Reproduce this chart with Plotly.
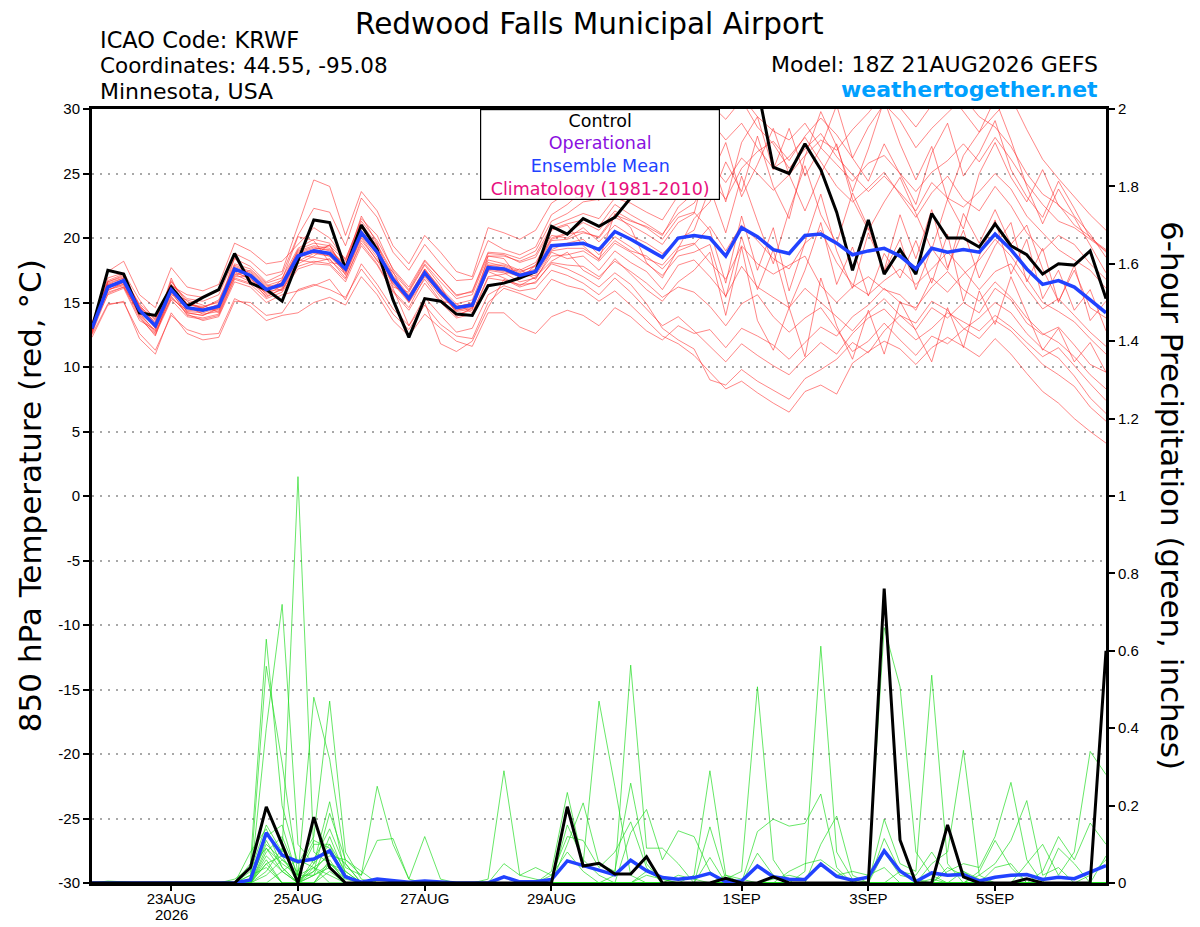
import plotly.graph_objects as go
import pandas as pd

# 6-hourly GEFS output, 18Z 21AUG2026 run, 16 days
times = pd.date_range("2026-08-21 18:00", periods=65, freq="6h")

tick_dates = ["2026-08-23", "2026-08-25", "2026-08-27", "2026-08-29",
              "2026-09-01", "2026-09-03", "2026-09-05"]
tick_text = ["23AUG", "25AUG", "27AUG", "29AUG", "1SEP", "3SEP", "5SEP"]
year_label = "2026"

temp_ticks = [-30, -25, -20, -15, -10, -5, 0, 5, 10, 15, 20, 25, 30]
temp_ticktext = ["-30", "-25", "-20", "-15", "-10", "-5", "0", "5", "10", "15", "20", "25", "30"]

# --- 850 hPa temperature (C) ---
ctl_temp = [13.0, 17.5, 17.2, 14.2, 14.0, 16.2, 14.7, 15.4, 16.0, 18.8, 16.5, 16.0, 15.1,
            18.3, 21.4, 21.2, 17.6, 21.0, 19.1, 15.2, 12.3, 15.3, 15.1, 14.1, 14.0, 16.3,
            16.5, 16.9, 17.4, 20.9, 20.3, 21.5, 20.9, 21.6, 23.1, 25.5, 27.5, 29.0, 30.8,
            31.6, 32.0, 32.4, 31.7, 25.5, 25.0, 27.3, 25.3, 22.0, 17.5, 21.4, 17.2, 19.1,
            17.2, 21.9, 20.0, 20.0, 19.3, 21.1, 19.4, 18.7, 17.2, 18.0, 17.9, 19.0, 15.3]

mean_temp = [13.0, 16.2, 16.7, 14.4, 13.2, 16.0, 14.6, 14.4, 14.7, 17.6, 17.1, 16.0, 16.4,
             18.6, 19.0, 18.8, 17.6, 20.4, 18.9, 16.8, 15.3, 17.3, 15.8, 14.6, 14.8, 17.7,
             17.6, 17.1, 17.4, 19.4, 19.5, 19.6, 19.1, 20.5, 19.9, 19.2, 18.5, 20.0, 20.2,
             20.0, 18.6, 20.8, 20.1, 19.1, 18.8, 20.2, 20.3, 19.6, 18.7, 19.0, 19.2, 18.6,
             17.6, 19.2, 18.9, 19.1, 18.9, 20.3, 19.1, 17.6, 16.4, 16.7, 16.2, 15.2, 14.2]

tmp01 = [12.8, 17.4, 18.2, 15.6, 14.6, 17.7, 16.2, 15.9, 16.4, 19.6, 19.0, 18.0, 18.2,
         19.5, 20.8, 20.0, 18.3, 21.5, 20.2, 17.5, 16.0, 18.2, 16.9, 15.5, 15.9, 18.9,
         18.8, 18.4, 19.0, 21.3, 21.9, 22.8, 23.0, 24.6, 25.3, 26.1, 25.0, 27.2, 28.4,
         29.1, 27.6, 28.9, 27.0, 25.4, 26.3, 27.8, 25.9, 24.0, 22.8, 23.9, 25.1, 23.3,
         21.6, 23.5, 24.8, 23.0, 22.1, 24.0, 22.5, 20.4, 19.0, 20.2, 19.5, 18.0, 16.8]
tmp02 = [12.3, 14.8, 15.1, 12.2, 11.0, 14.2, 12.6, 12.1, 12.3, 15.1, 15.0, 14.0, 14.2,
         16.0, 16.4, 16.0, 15.4, 17.6, 16.0, 14.1, 12.9, 14.8, 13.3, 12.4, 12.2, 15.0,
         16.1, 15.7, 15.2, 16.8, 16.3, 16.0, 15.1, 15.9, 14.8, 13.6, 12.4, 11.8, 10.9,
         9.6, 8.3, 8.9, 8.0, 7.2, 6.5, 8.1, 8.6, 7.9, 10.3, 11.2, 12.0, 11.4,
         10.2, 11.5, 12.3, 11.6, 10.8, 12.2, 11.0, 9.5, 8.1, 7.2, 6.0, 5.0, 4.1]
tmp03 = [13.3, 16.0, 16.4, 14.6, 13.0, 16.9, 14.2, 14.0, 14.5, 18.5, 16.7, 15.7, 16.8,
         20.1, 19.8, 18.1, 17.9, 21.7, 19.6, 16.2, 15.8, 17.9, 16.3, 14.1, 14.4, 18.6,
         18.4, 16.8, 17.9, 20.6, 21.0, 19.4, 18.3, 21.9, 20.8, 18.1, 16.9, 19.2, 21.5,
         22.8, 25.9, 23.6, 27.9, 24.0, 21.5, 26.3, 29.8, 27.1, 23.6, 26.9, 30.7, 27.3,
         24.5, 27.1, 23.0, 26.4, 28.2, 30.8, 27.6, 24.0, 21.1, 23.8, 21.7, 20.3, 18.5]
tmp04 = [13.1, 16.5, 16.9, 14.9, 13.8, 15.6, 15.2, 14.8, 14.2, 17.1, 17.5, 16.4, 15.9,
         18.0, 18.6, 19.5, 17.1, 20.0, 18.2, 17.4, 15.0, 16.8, 15.1, 14.9, 14.2, 17.0,
         17.2, 17.6, 16.8, 18.9, 18.4, 18.6, 17.5, 19.0, 18.1, 17.4, 16.0, 17.9, 18.3,
         17.0, 15.5, 17.8, 16.2, 15.4, 14.6, 16.1, 15.0, 13.9, 12.8, 14.2, 15.3, 14.0,
         12.9, 14.6, 13.8, 15.0, 14.2, 16.1, 15.2, 13.4, 12.5, 13.1, 11.7, 10.2, 9.6]
tmp05 = [12.9, 16.9, 17.3, 15.2, 13.6, 16.3, 15.6, 15.4, 15.9, 18.8, 18.2, 17.1, 17.4,
         21.0, 24.5, 24.0, 20.2, 23.6, 22.1, 19.4, 18.0, 20.2, 18.9, 17.4, 17.0, 20.8,
         20.4, 19.9, 20.6, 22.7, 23.5, 24.1, 23.9, 26.0, 26.8, 27.4, 28.1, 29.6, 30.8,
         31.5, 30.2, 31.0, 29.4, 28.3, 27.6, 28.9, 27.0, 25.7, 24.4, 25.8, 26.4, 25.0,
         23.6, 25.1, 26.0, 27.3, 25.9, 27.8, 26.1, 24.2, 22.6, 21.3, 20.8, 19.9, 19.0]
tmp06 = [13.4, 15.8, 16.2, 14.2, 12.7, 15.3, 14.4, 14.3, 14.9, 17.3, 16.9, 15.4, 16.1,
         18.3, 18.1, 18.4, 16.9, 19.6, 18.0, 15.9, 14.6, 17.0, 15.4, 13.9, 14.6, 17.4,
         16.9, 16.3, 17.0, 18.2, 18.9, 17.5, 16.8, 18.4, 17.2, 16.0, 15.1, 16.6, 17.5,
         18.9, 14.0, 19.3, 13.6, 11.3, 14.6, 10.8, 16.9, 13.2, 10.6, 14.4, 11.0, 15.1,
         12.8, 10.4, 14.6, 11.5, 15.9, 13.3, 17.0, 14.1, 11.3, 13.0, 10.4, 11.9, 9.6]
tmp07 = [12.6, 16.4, 16.6, 13.9, 12.4, 15.9, 14.0, 13.8, 14.1, 16.9, 16.5, 15.8, 16.6,
         18.9, 19.3, 19.0, 18.0, 20.8, 19.4, 17.1, 15.6, 17.5, 16.0, 14.6, 15.0, 18.1,
         17.8, 17.3, 17.9, 20.0, 20.4, 21.2, 20.6, 22.1, 21.4, 20.8, 19.9, 21.6, 22.0,
         20.6, 16.5, 21.7, 17.5, 20.8, 15.9, 19.6, 23.4, 19.0, 16.1, 20.4, 17.5, 21.8,
         18.4, 22.2, 17.7, 20.6, 16.9, 19.4, 21.2, 16.6, 19.2, 15.0, 17.9, 13.6, 15.1]
tmp08 = [13.0, 15.6, 16.1, 13.6, 12.9, 15.5, 14.1, 13.6, 13.9, 16.6, 16.2, 15.0, 15.6,
         15.9, 16.3, 16.8, 15.2, 18.0, 16.4, 14.5, 13.2, 15.4, 14.0, 12.7, 13.0, 15.6,
         16.3, 15.9, 16.1, 17.5, 17.1, 16.5, 15.6, 16.9, 15.8, 14.5, 13.2, 13.9, 12.8,
         11.6, 10.4, 11.8, 10.9, 10.1, 9.4, 10.7, 11.9, 11.0, 12.6, 13.8, 14.5, 13.2,
         12.1, 13.0, 14.2, 13.5, 12.8, 14.0, 13.1, 11.9, 10.8, 11.5, 10.1, 8.7, 7.4]
tmp09 = [13.2, 16.1, 16.8, 14.8, 13.4, 16.2, 14.8, 14.7, 15.0, 17.9, 17.4, 16.3, 16.7,
         19.0, 19.4, 19.2, 17.8, 20.9, 19.1, 17.0, 15.5, 17.6, 16.1, 14.9, 15.2, 18.3,
         18.0, 17.5, 18.1, 20.2, 20.0, 20.8, 19.7, 21.0, 20.2, 19.6, 18.8, 19.9, 20.6,
         23.9, 20.4, 24.8, 21.3, 18.0, 22.1, 25.6, 21.8, 19.6, 23.5, 20.8, 17.4, 19.9,
         16.0, 19.2, 17.5, 21.9, 19.6, 22.2, 19.5, 21.0, 17.6, 15.1, 17.5, 14.6, 13.8]
tmp10 = [12.7, 16.6, 17.1, 14.5, 13.1, 16.1, 14.5, 14.6, 15.1, 17.7, 17.2, 16.1, 16.2,
         18.4, 19.1, 19.4, 17.5, 20.3, 19.0, 16.9, 15.4, 17.4, 15.9, 14.7, 14.9, 17.9,
         17.7, 17.2, 17.6, 19.8, 19.9, 20.4, 20.1, 21.8, 21.3, 20.9, 20.2, 22.4, 23.5,
         24.6, 23.0, 25.4, 26.7, 27.5, 26.0, 27.9, 29.3, 28.0, 26.2, 28.6, 30.4, 29.1,
         27.0, 28.5, 29.7, 30.9, 29.4, 28.6, 27.1, 25.0, 23.4, 22.6, 21.0, 20.1, 18.9]
tmp11 = [13.5, 16.3, 16.5, 14.3, 13.3, 16.6, 15.1, 14.5, 14.4, 17.4, 16.8, 15.9, 16.0,
         18.2, 18.8, 18.6, 17.3, 20.2, 18.7, 16.6, 15.1, 17.2, 15.7, 14.4, 14.7, 17.6,
         17.4, 17.0, 17.3, 19.1, 19.6, 19.9, 18.7, 20.1, 19.3, 18.4, 17.9, 19.3, 19.6,
         18.1, 16.8, 19.4, 18.0, 17.2, 17.9, 18.6, 16.3, 15.0, 16.2, 17.0, 16.0, 15.6,
         14.4, 16.9, 15.8, 17.2, 18.3, 19.9, 18.6, 16.8, 15.0, 14.3, 13.5, 12.2, 11.0]
tmp12 = [13.0, 16.7, 17.2, 14.7, 13.7, 16.4, 15.3, 15.1, 15.6, 18.4, 17.8, 16.6, 17.2,
         20.2, 22.3, 22.0, 19.4, 23.1, 21.6, 18.9, 17.5, 19.5, 18.0, 16.7, 16.8, 19.8,
         19.1, 18.7, 19.3, 21.8, 22.6, 23.7, 22.9, 25.1, 24.3, 25.6, 26.4, 28.3, 29.6,
         30.4, 29.2, 30.7, 28.6, 27.3, 25.4, 26.9, 28.1, 26.3, 24.9, 23.6, 24.8, 23.5,
         22.1, 24.3, 23.1, 22.4, 23.6, 25.0, 23.8, 21.7, 20.4, 19.1, 18.3, 17.5, 16.1]
tmp13 = [12.9, 16.0, 16.3, 14.1, 12.8, 15.7, 14.3, 14.2, 14.6, 17.5, 17.0, 15.6, 16.3,
         18.7, 18.5, 18.3, 17.2, 20.1, 18.5, 16.4, 15.2, 17.1, 15.6, 14.3, 14.5, 17.5,
         17.3, 16.6, 16.9, 18.6, 18.7, 19.0, 18.2, 19.6, 18.9, 18.0, 17.1, 18.6, 18.9,
         19.5, 15.4, 20.1, 16.0, 19.1, 14.6, 17.5, 21.2, 16.4, 19.3, 15.5, 18.8, 16.9,
         19.8, 16.5, 20.3, 15.1, 18.6, 21.4, 17.2, 19.9, 15.3, 17.5, 14.4, 16.0, 12.8]
tmp14 = [13.1, 15.9, 16.6, 14.4, 13.0, 15.8, 14.7, 14.1, 14.3, 17.2, 16.6, 15.5, 16.0,
         17.8, 18.2, 18.0, 16.8, 19.8, 18.3, 16.1, 13.2, 15.0, 11.8, 11.2, 12.0, 14.6,
         16.8, 16.2, 16.6, 18.0, 17.6, 17.0, 16.2, 17.3, 16.4, 14.9, 13.0, 12.1, 11.4,
         9.0, 8.6, 9.8, 8.9, 8.2, 7.5, 9.1, 9.8, 10.6, 11.9, 11.1, 12.8, 14.0,
         13.4, 15.1, 14.4, 13.0, 12.2, 13.6, 12.8, 11.5, 10.2, 9.4, 8.5, 6.9, 5.8]
tmp15 = [13.2, 16.4, 16.9, 14.6, 13.5, 16.2, 14.9, 14.5, 14.8, 17.8, 17.3, 16.2, 16.5,
         18.8, 19.2, 19.1, 17.7, 20.6, 19.0, 16.9, 15.4, 17.6, 16.0, 14.7, 14.9, 17.9,
         17.9, 17.4, 17.8, 19.9, 20.3, 20.5, 20.0, 21.6, 21.0, 20.3, 19.5, 21.2, 21.9,
         26.5, 22.8, 27.4, 29.4, 25.3, 28.5, 24.8, 27.0, 30.3, 26.2, 24.4, 27.3, 25.0,
         22.6, 26.6, 28.9, 24.8, 26.6, 29.1, 25.3, 23.2, 21.6, 24.4, 22.3, 20.0, 19.1]
tmp16 = [12.8, 16.2, 16.4, 14.0, 12.6, 15.4, 14.2, 14.0, 14.6, 17.0, 17.0, 16.0, 16.4,
         18.5, 18.9, 18.6, 17.4, 20.5, 18.8, 16.5, 15.0, 17.2, 15.6, 14.4, 14.6, 17.6,
         17.5, 17.0, 17.1, 19.0, 19.2, 19.2, 18.4, 19.8, 19.0, 18.6, 17.6, 19.0, 19.5,
         20.9, 19.0, 21.0, 19.8, 18.4, 17.6, 19.6, 20.6, 18.1, 16.4, 15.6, 16.7, 17.6,
         16.4, 17.6, 18.9, 17.5, 16.0, 17.4, 18.0, 16.1, 14.5, 15.3, 14.0, 12.7, 11.6]
tmp17 = [13.0, 16.3, 16.7, 14.4, 13.2, 16.0, 14.6, 14.4, 14.7, 17.6, 17.1, 16.0, 16.4,
         19.1, 19.6, 19.4, 18.2, 21.1, 19.5, 17.3, 15.9, 18.0, 16.6, 15.3, 15.6, 18.6,
         18.6, 18.2, 18.7, 20.9, 21.4, 21.9, 21.5, 23.1, 22.7, 22.0, 21.4, 23.3, 24.1,
         25.8, 24.3, 26.2, 25.0, 23.7, 24.9, 26.4, 27.6, 26.8, 28.4, 29.7, 31.2, 30.1,
         28.6, 30.3, 31.4, 29.8, 28.2, 29.6, 30.9, 28.4, 26.1, 24.6, 23.2, 21.8, 20.6]
tmp18 = [12.6, 15.7, 16.2, 13.8, 12.5, 15.2, 13.9, 13.7, 14.0, 16.8, 16.4, 15.3, 15.8,
         17.6, 18.0, 17.9, 16.6, 19.4, 17.9, 15.8, 14.4, 16.5, 15.0, 13.8, 14.1, 16.9,
         16.7, 16.4, 16.5, 18.1, 17.9, 17.8, 17.0, 18.2, 17.4, 16.5, 15.4, 16.2, 15.8,
         14.7, 13.2, 14.9, 15.6, 13.9, 12.7, 13.8, 14.6, 12.9, 11.2, 12.0, 13.4, 12.1,
         10.9, 12.4, 11.8, 12.9, 13.8, 15.0, 14.2, 12.6, 11.4, 10.7, 9.3, 7.6, 6.4]
tmp19 = [13.3, 16.6, 17.0, 14.7, 13.3, 16.7, 14.9, 14.6, 15.2, 18.0, 17.6, 16.5, 16.9,
         19.2, 19.9, 19.6, 18.4, 21.3, 19.8, 17.6, 16.2, 18.3, 16.9, 15.6, 15.8, 18.8,
         18.7, 18.1, 18.5, 20.7, 21.1, 21.4, 20.9, 22.6, 21.8, 21.1, 20.3, 21.9, 22.7,
         24.6, 27.4, 23.2, 25.7, 28.5, 24.9, 22.1, 25.0, 27.3, 23.0, 20.6, 22.8, 24.7,
         21.9, 19.1, 23.0, 20.7, 25.0, 27.4, 24.7, 22.8, 25.3, 22.5, 21.6, 19.4, 17.3]
tmp20 = [12.5, 14.9, 15.0, 12.6, 11.3, 14.0, 12.9, 12.5, 12.6, 15.3, 14.7, 13.6, 14.0,
         14.2, 15.0, 15.4, 14.8, 17.0, 15.6, 13.6, 12.4, 14.1, 13.0, 12.0, 11.6, 14.2,
         14.2, 13.1, 12.6, 13.9, 14.4, 14.0, 13.2, 14.6, 13.9, 12.8, 12.1, 13.2, 12.6,
         12.9, 11.5, 13.0, 12.4, 11.7, 10.6, 11.9, 13.1, 12.4, 13.9, 14.8, 16.1, 15.0,
         14.6, 16.2, 17.4, 16.0, 15.1, 16.6, 15.4, 13.8, 12.6, 11.9, 10.8, 9.4, 8.3]

# --- 6-hour precipitation (inches) ---
ctl_pcp = [0, 0, 0, 0, 0, 0, 0, 0, 0, 0, 0.04, 0.197, 0.10,
           0, 0.17, 0.04, 0, 0, 0, 0, 0, 0, 0, 0, 0, 0,
           0, 0, 0, 0, 0.197, 0.044, 0.051, 0.023, 0.023, 0.068, 0, 0, 0,
           0, 0.012, 0, 0, 0.016, 0, 0, 0, 0, 0, 0, 0.761, 0.111,
           0, 0, 0.15, 0.016, 0, 0, 0, 0.011, 0, 0, 0, 0, 0.60]

mean_pcp = [0, 0, 0, 0, 0, 0, 0, 0, 0, 0, 0.008, 0.13, 0.072,
            0.055, 0.062, 0.083, 0.016, 0.002, 0.01, 0.005, 0.002, 0.005, 0.002, 0, 0, 0,
            0.016, 0.003, 0.003, 0.009, 0.057, 0.045, 0.034, 0.021, 0.059, 0.032, 0.014, 0.01, 0.014,
            0.025, 0.003, 0.005, 0.044, 0.016, 0.01, 0.009, 0.049, 0.017, 0.007, 0.015, 0.083, 0.031,
            0.004, 0.026, 0.02, 0.022, 0.005, 0.015, 0.02, 0.022, 0.009, 0.015, 0.011, 0.028, 0.045]

pcp01 = [0, 0, 0, 0, 0, 0, 0, 0, 0, 0, 0.05, 0.63, 0.20,
         0.05, 0.12, 0.47, 0.08, 0.01, 0, 0, 0, 0, 0, 0, 0, 0,
         0, 0, 0, 0, 0, 0, 0, 0, 0, 0, 0, 0, 0,
         0.066, 0, 0, 0.133, 0.165, 0.147, 0.154, 0.23, 0.04, 0, 0, 0, 0,
         0, 0, 0, 0, 0, 0, 0, 0, 0, 0, 0, 0, 0]
pcp02 = [0, 0, 0, 0, 0, 0, 0, 0, 0, 0, 0.02, 0.56, 0.31,
         0.02, 0.10, 0.10, 0.03, 0, 0, 0, 0, 0, 0, 0, 0, 0,
         0, 0, 0, 0, 0, 0, 0, 0, 0, 0, 0, 0, 0,
         0, 0, 0, 0.077, 0.02, 0, 0.03, 0.612, 0.08, 0.01, 0, 0, 0,
         0, 0, 0, 0, 0, 0, 0, 0, 0, 0, 0, 0, 0]
pcp03 = [0, 0, 0, 0, 0, 0, 0, 0, 0, 0, 0, 0.40, 0.72,
         0.10, 0.05, 0.21, 0.02, 0, 0, 0, 0, 0, 0, 0, 0, 0,
         0, 0, 0, 0, 0, 0, 0, 0, 0, 0, 0, 0, 0,
         0, 0, 0, 0, 0, 0, 0, 0.10, 0.173, 0.02, 0, 0, 0,
         0, 0, 0, 0, 0, 0, 0, 0, 0, 0, 0, 0, 0]
pcp04 = [0, 0, 0, 0, 0, 0, 0, 0, 0, 0, 0.03, 0.15, 0.08,
         1.05, 0.08, 0.05, 0.02, 0, 0, 0, 0, 0, 0, 0, 0, 0,
         0, 0, 0, 0, 0, 0, 0, 0, 0, 0, 0, 0, 0,
         0, 0, 0, 0, 0, 0.03, 0.05, 0.06, 0.03, 0, 0, 0, 0,
         0, 0, 0, 0, 0, 0, 0, 0, 0, 0, 0, 0, 0]
pcp05 = [0, 0, 0, 0, 0, 0, 0, 0, 0, 0, 0.01, 0.10, 0.06,
         0.02, 0.48, 0.32, 0.05, 0, 0, 0, 0, 0, 0, 0, 0, 0,
         0, 0, 0, 0, 0, 0, 0, 0, 0, 0, 0, 0, 0,
         0, 0, 0, 0, 0, 0, 0, 0, 0, 0, 0.02, 0.66, 0.507,
         0.08, 0.02, 0, 0, 0, 0, 0, 0, 0, 0, 0, 0, 0]
pcp06 = [0, 0, 0, 0, 0, 0, 0, 0, 0, 0, 0, 0.12, 0.15,
         0.01, 0.03, 0.18, 0.06, 0.02, 0.25, 0.10, 0.01, 0.12, 0.01, 0, 0, 0,
         0, 0, 0, 0, 0, 0, 0, 0, 0, 0, 0, 0, 0,
         0, 0, 0, 0, 0, 0, 0, 0, 0, 0, 0, 0.165, 0.05,
         0.03, 0.537, 0.05, 0, 0, 0, 0, 0, 0, 0, 0, 0, 0]
pcp07 = [0, 0, 0, 0, 0, 0, 0, 0, 0, 0, 0.08, 0.14, 0.04,
         0, 0.06, 0.14, 0.04, 0.02, 0.11, 0.115, 0.01, 0, 0, 0, 0, 0,
         0, 0, 0, 0, 0, 0, 0, 0, 0, 0, 0, 0, 0,
         0, 0, 0, 0, 0, 0, 0, 0, 0, 0, 0, 0.115, 0.03,
         0, 0.05, 0.08, 0.343, 0.02, 0, 0, 0, 0, 0, 0, 0, 0]
pcp08 = [0, 0, 0, 0, 0, 0, 0, 0, 0, 0, 0, 0.09, 0.05,
         0.02, 0.02, 0.12, 0.02, 0, 0, 0, 0, 0, 0, 0, 0, 0,
         0, 0, 0, 0, 0, 0, 0, 0, 0, 0, 0, 0, 0,
         0, 0, 0, 0, 0, 0, 0, 0, 0, 0, 0, 0, 0,
         0, 0, 0.03, 0.05, 0.04, 0.12, 0.26, 0.06, 0, 0, 0, 0, 0]
pcp09 = [0, 0, 0, 0, 0, 0, 0, 0, 0, 0, 0, 0, 0.03,
         0.06, 0.04, 0, 0, 0, 0, 0, 0, 0, 0, 0, 0, 0.01,
         0.29, 0.02, 0.01, 0, 0, 0, 0, 0, 0, 0, 0, 0, 0,
         0, 0, 0, 0, 0, 0, 0, 0, 0, 0, 0, 0, 0,
         0, 0, 0, 0, 0.02, 0.05, 0.11, 0.213, 0.02, 0.04, 0, 0, 0]
pcp10 = [0, 0, 0, 0, 0, 0, 0, 0, 0, 0, 0, 0.05, 0.07,
         0, 0, 0.05, 0.03, 0, 0, 0, 0, 0, 0, 0, 0, 0,
         0, 0, 0, 0.03, 0.234, 0.05, 0.47, 0.25, 0.02, 0, 0, 0, 0,
         0, 0, 0, 0, 0, 0, 0, 0, 0, 0, 0, 0, 0,
         0, 0, 0, 0, 0, 0, 0, 0.05, 0.10, 0.02, 0.08, 0.34, 0.28]
pcp11 = [0, 0, 0, 0, 0, 0, 0, 0, 0, 0, 0, 0.06, 0,
         0, 0.03, 0.08, 0.05, 0, 0, 0, 0, 0, 0, 0, 0, 0,
         0, 0, 0, 0, 0.10, 0.207, 0.05, 0.03, 0.258, 0.05, 0, 0, 0,
         0, 0, 0, 0, 0, 0, 0, 0, 0, 0, 0, 0, 0,
         0, 0, 0, 0, 0, 0, 0, 0, 0.03, 0.12, 0.06, 0.155, 0.10]
pcp12 = [0, 0, 0, 0, 0, 0, 0, 0, 0, 0, 0.02, 0.04, 0,
         0, 0, 0.06, 0, 0, 0, 0, 0, 0, 0, 0, 0, 0,
         0, 0, 0, 0, 0, 0, 0, 0.02, 0.563, 0.09, 0.09, 0.05, 0,
         0, 0, 0, 0, 0, 0, 0, 0, 0, 0, 0, 0, 0.03,
         0.02, 0.08, 0.02, 0.03, 0, 0.04, 0.05, 0, 0, 0, 0, 0, 0]
pcp13 = [0, 0, 0, 0, 0, 0, 0, 0, 0, 0, 0, 0.07, 0.03,
         0, 0.05, 0.10, 0, 0, 0, 0, 0, 0, 0, 0, 0, 0,
         0, 0, 0, 0, 0.15, 0.06, 0.02, 0, 0.13, 0.19, 0.06, 0.135, 0.12,
         0.03, 0, 0, 0, 0, 0, 0, 0, 0, 0, 0, 0, 0,
         0, 0, 0, 0, 0.03, 0.11, 0.04, 0, 0, 0.09, 0.05, 0, 0.07]
pcp14 = [0, 0, 0, 0, 0, 0, 0, 0, 0, 0, 0, 0.11, 0.04,
         0, 0.02, 0.04, 0, 0, 0, 0, 0, 0, 0, 0, 0, 0,
         0, 0, 0, 0.02, 0.12, 0.11, 0.04, 0.08, 0.158, 0.04, 0, 0, 0,
         0, 0, 0, 0, 0, 0, 0, 0, 0, 0, 0, 0.08, 0.02,
         0.01, 0, 0.04, 0.02, 0, 0, 0, 0, 0, 0, 0, 0, 0]
pcp15 = [0, 0, 0, 0, 0, 0, 0, 0, 0, 0, 0, 0.08, 0.12,
         0.02, 0.04, 0.07, 0.06, 0.03, 0, 0, 0, 0, 0, 0, 0, 0,
         0.05, 0.02, 0.04, 0.02, 0.08, 0.03, 0, 0, 0, 0, 0, 0, 0,
         0, 0, 0, 0, 0, 0, 0, 0, 0, 0, 0, 0, 0,
         0, 0, 0, 0, 0, 0, 0, 0, 0, 0, 0, 0, 0]
pcp16 = [0, 0, 0, 0, 0, 0, 0, 0, 0, 0, 0, 0.02, 0.06,
         0.03, 0.11, 0.09, 0.02, 0, 0, 0, 0, 0, 0, 0, 0, 0,
         0, 0, 0, 0, 0, 0, 0, 0, 0, 0, 0, 0, 0.02,
         0.29, 0.02, 0, 0, 0, 0, 0, 0, 0, 0, 0, 0, 0,
         0, 0, 0, 0.03, 0.01, 0, 0, 0, 0, 0, 0, 0, 0]
pcp17 = [0, 0, 0, 0, 0, 0, 0, 0, 0, 0, 0, 0.05, 0,
         0, 0, 0.03, 0, 0, 0, 0, 0, 0, 0, 0, 0, 0,
         0, 0, 0, 0, 0, 0, 0, 0, 0, 0.02, 0.01, 0, 0,
         0.145, 0.01, 0.03, 0.507, 0.06, 0, 0, 0, 0, 0, 0, 0, 0,
         0, 0, 0, 0, 0, 0, 0, 0, 0, 0, 0, 0, 0]
pcp18 = [0, 0, 0, 0, 0, 0, 0, 0, 0, 0.01, 0.04, 0.09, 0.03,
         0, 0, 0, 0, 0, 0, 0, 0, 0, 0, 0, 0, 0,
         0, 0, 0, 0, 0, 0, 0, 0, 0, 0, 0, 0, 0,
         0, 0, 0, 0, 0.01, 0.02, 0.01, 0.05, 0.02, 0.03, 0.02, 0.04, 0,
         0, 0.01, 0, 0, 0, 0, 0, 0, 0, 0, 0, 0, 0]
pcp19 = [0, 0, 0, 0, 0, 0, 0, 0, 0, 0, 0, 0.03, 0.09,
         0, 0.02, 0.05, 0.01, 0, 0, 0, 0, 0, 0, 0, 0, 0,
         0, 0, 0, 0, 0, 0, 0, 0, 0, 0.03, 0.01, 0, 0,
         0, 0, 0, 0, 0, 0, 0, 0, 0, 0, 0, 0, 0,
         0, 0, 0, 0, 0, 0, 0, 0, 0, 0, 0, 0.02, 0.06, 0.03]
pcp20 = [0, 0.005, 0.003, 0, 0, 0, 0, 0, 0, 0, 0, 0, 0,
         0, 0.04, 0.02, 0, 0, 0, 0, 0, 0, 0, 0, 0, 0,
         0, 0, 0, 0, 0, 0, 0, 0, 0, 0, 0, 0.02, 0.01,
         0, 0.02, 0.01, 0, 0, 0, 0, 0, 0, 0, 0, 0, 0,
         0, 0, 0, 0, 0, 0, 0, 0, 0, 0, 0, 0, 0]

temp_members = [tmp01, tmp02, tmp03, tmp04, tmp05, tmp06, tmp07, tmp08, tmp09, tmp10,
                tmp11, tmp12, tmp13, tmp14, tmp15, tmp16, tmp17, tmp18, tmp19, tmp20]
pcp_members = [pcp01, pcp02, pcp03, pcp04, pcp05, pcp06, pcp07, pcp08, pcp09, pcp10,
               pcp11, pcp12, pcp13, pcp14, pcp15, pcp16, pcp17, pcp18, pcp19, pcp20]

FONT = "DejaVu Sans, Liberation Sans, Arial, sans-serif"
TICKFONT = "Liberation Sans, Arial, Helvetica, sans-serif"
RED = "rgba(255,40,40,0.7)"
GREEN = "rgba(30,220,30,0.85)"
BLUE = "#2142ff"

fig = go.Figure()

for m in temp_members:
    fig.add_trace(go.Scatter(x=times, y=m, mode="lines", yaxis="y",
                             line=dict(color=RED, width=0.8), hoverinfo="skip"))
fig.add_trace(go.Scatter(x=times, y=ctl_temp, mode="lines", yaxis="y",
                         line=dict(color="black", width=3)))
fig.add_trace(go.Scatter(x=times, y=mean_temp, mode="lines", yaxis="y",
                         line=dict(color=BLUE, width=3.5)))

for m in pcp_members:
    fig.add_trace(go.Scatter(x=times, y=m, mode="lines", yaxis="y2",
                             line=dict(color=GREEN, width=0.8), hoverinfo="skip"))
fig.add_trace(go.Scatter(x=times, y=mean_pcp, mode="lines", yaxis="y2",
                         line=dict(color=BLUE, width=3.5)))
fig.add_trace(go.Scatter(x=times, y=ctl_pcp, mode="lines", yaxis="y2",
                         line=dict(color="black", width=3)))

# the page body adds an 8px margin, so the figure is a bit smaller than the window
fig.update_layout(
    width=1192, height=919,
    margin=dict(l=84, r=94, t=101, b=44, autoexpand=False),
    paper_bgcolor="white", plot_bgcolor="white",
    showlegend=False,
    font=dict(family=FONT, color="black", size=15),
    xaxis=dict(
        range=[times[0], times[-1]],
        tickvals=tick_dates, ticktext=tick_text,
        ticks="",
        # tick marks drawn as minor ticks so the labels sit close to the axis
        minor=dict(tickvals=tick_dates, ticks="outside", ticklen=5, tickwidth=1.5,
                   tickcolor="black", showgrid=False),
        showline=True, linewidth=3, linecolor="black", mirror=True,
        showgrid=False, zeroline=False,
        tickfont=dict(family=TICKFONT, size=15),
    ),
    yaxis=dict(
        range=[-30, 30], tickvals=temp_ticks, ticktext=temp_ticktext,
        ticks="outside", ticklen=6, tickwidth=1.5, tickcolor="black",
        showline=True, linewidth=3, linecolor="black",
        showgrid=True, gridcolor="#a8a8a8", griddash="2px,6px", gridwidth=1.5,
        zeroline=False, tickfont=dict(family=TICKFONT, size=15),
    ),
    yaxis2=dict(
        range=[0, 2], dtick=0.2, overlaying="y", side="right",
        ticks="outside", ticklen=6, tickwidth=1.5, tickcolor="black",
        showline=True, linewidth=3, linecolor="black",
        showgrid=False, zeroline=False, tickfont=dict(family=TICKFONT, size=15),
    ),
)

anns = [
    dict(text="Redwood Falls Municipal Airport", x=0.491, y=1.11,
         xanchor="center", yanchor="middle", font=dict(size=29.5)),
    dict(text="ICAO Code: KRWF", x=0.006, y=1.089, xanchor="left", yanchor="middle",
         font=dict(size=22.5)),
    dict(text="Coordinates: 44.55, -95.08", x=0.006, y=1.056, xanchor="left",
         yanchor="middle", font=dict(size=21.5)),
    dict(text="Minnesota, USA", x=0.006, y=1.022, xanchor="left", yanchor="middle",
         font=dict(size=22)),
    dict(text="Model: 18Z 21AUG2026 GEFS", x=0.994, y=1.058, xanchor="right",
         yanchor="middle", font=dict(size=22)),
    dict(text="<b>weathertogether.net</b>", x=0.994, y=1.025, xanchor="right",
         yanchor="middle", font=dict(size=22, color="#00a0ff")),
    dict(text=("Control<br><span style='color:#8a10e0'>Operational</span><br>"
               "<span style='color:#2142ff'>Ensemble Mean</span><br>"
               "<span style='color:#e8107e'>Climatology (1981-2010)</span>"),
         x=0.501, y=1.0, xanchor="center", yanchor="top", align="center",
         width=234, height=85, bgcolor="white", bordercolor="black", borderwidth=1.2,
         borderpad=2, font=dict(size=17.5)),
    dict(text="850 hPa Temperature (red, °C)", x=-0.061, y=0.5, textangle=-90,
         xanchor="center", yanchor="middle", font=dict(size=31)),
    dict(text="6-hour Precipitation (green, inches)", x=1.065, y=0.5, textangle=90,
         xanchor="center", yanchor="middle", font=dict(size=31)),
]
for a in anns:
    fig.add_annotation(xref="paper", yref="paper", showarrow=False, **a)

# year under the first date label
fig.add_annotation(x=tick_dates[0], xref="x", y=-0.041, yref="paper", text=year_label,
                   showarrow=False, yanchor="middle",
                   font=dict(family=TICKFONT, size=15))

fig.write_html("out.html")
